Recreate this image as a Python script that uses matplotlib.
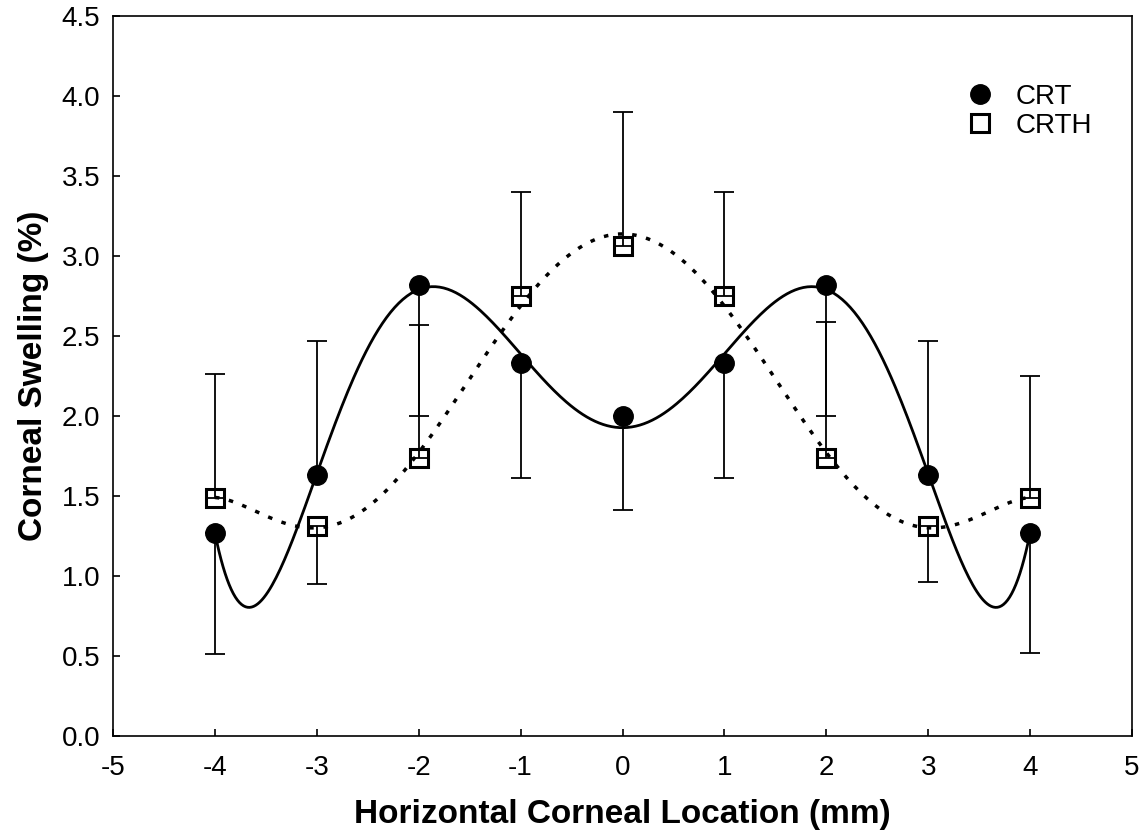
import numpy as np
from matplotlib import pyplot as plt

# data
x = [-4, -3, -2, -1, 0, 1, 2, 3, 4]
crt = [1.27, 1.63, 2.82, 2.33, 2.00, 2.33, 2.82, 1.63, 1.27]
crth = [1.49, 1.31, 1.74, 2.75, 3.06, 2.75, 1.74, 1.31, 1.49]
# one-sided error bars (lower, upper)
crt_lo = [0.76, 0.00, 0.82, 0.72, 0.59, 0.72, 0.82, 0.00, 0.75]
crt_hi = [0.00, 0.84, 0.00, 0.00, 0.00, 0.00, 0.00, 0.84, 0.00]
crth_lo = [0.00, 0.36, 0.00, 0.00, 0.00, 0.00, 0.00, 0.35, 0.00]
crth_hi = [0.77, 0.00, 0.83, 0.65, 0.84, 0.65, 0.85, 0.00, 0.76]

# the curves are 6th order polynomial fits of the points
xx = np.linspace(-4, 4, 400)
crt_fit = np.polyval(np.polyfit(x, crt, 6), xx)
crth_fit = np.polyval(np.polyfit(x, crth, 6), xx)

plt.rcParams['font.family'] = ['Liberation Sans', 'DejaVu Sans']
plt.rcParams['axes.unicode_minus'] = False

fig = plt.figure(figsize=(11.47, 8.36), dpi=100, facecolor='white')
ax = fig.add_axes([113 / 1147, 100 / 836, (1132 - 113) / 1147, (736 - 16) / 836])

ax.plot(xx, crt_fit, color='black', lw=2, zorder=2)
ax.plot(xx, crth_fit, color='black', lw=2.5, ls=(0, (1.3, 2.8)), zorder=2)

ax.errorbar(x, crt, yerr=[crt_lo, crt_hi], fmt='none', ecolor='black',
            elinewidth=1.3, capsize=7, capthick=1.3, zorder=3)
ax.errorbar(x, crth, yerr=[crth_lo, crth_hi], fmt='none', ecolor='black',
            elinewidth=1.3, capsize=7, capthick=1.3, zorder=3)

ax.plot(x, crt, 'o', ms=14, color='black', label='CRT', zorder=4)
ax.plot(x, crth, 's', ms=13, mfc='none', mec='black', mew=2.2,
        label='CRTH', zorder=4)

ax.set_xlim(-5, 5)
ax.set_ylim(0, 4.5)
ax.set_xticks(range(-5, 6))
ax.set_yticks(np.arange(0, 4.51, 0.5))
ax.set_yticklabels([f'{v:.1f}' for v in np.arange(0, 4.51, 0.5)])
ax.tick_params(direction='in', length=5, width=1.2, labelsize=20,
               top=False, right=False)
ax.tick_params(axis='x', pad=14)
ax.tick_params(axis='y', pad=9)
for s in ax.spines.values():
    s.set_linewidth(1.2)

ax.set_xlabel('Horizontal Corneal Location (mm)', fontsize=24,
              fontweight='bold', labelpad=13)
ax.set_ylabel('Corneal Swelling (%)', fontsize=24, fontweight='bold',
              labelpad=9)

ax.legend(loc='upper right', frameon=False, fontsize=20, handletextpad=0.25,
          bbox_to_anchor=(0.985, 0.94), labelspacing=0.1)

plt.savefig('out.png', dpi=100, facecolor='white')
